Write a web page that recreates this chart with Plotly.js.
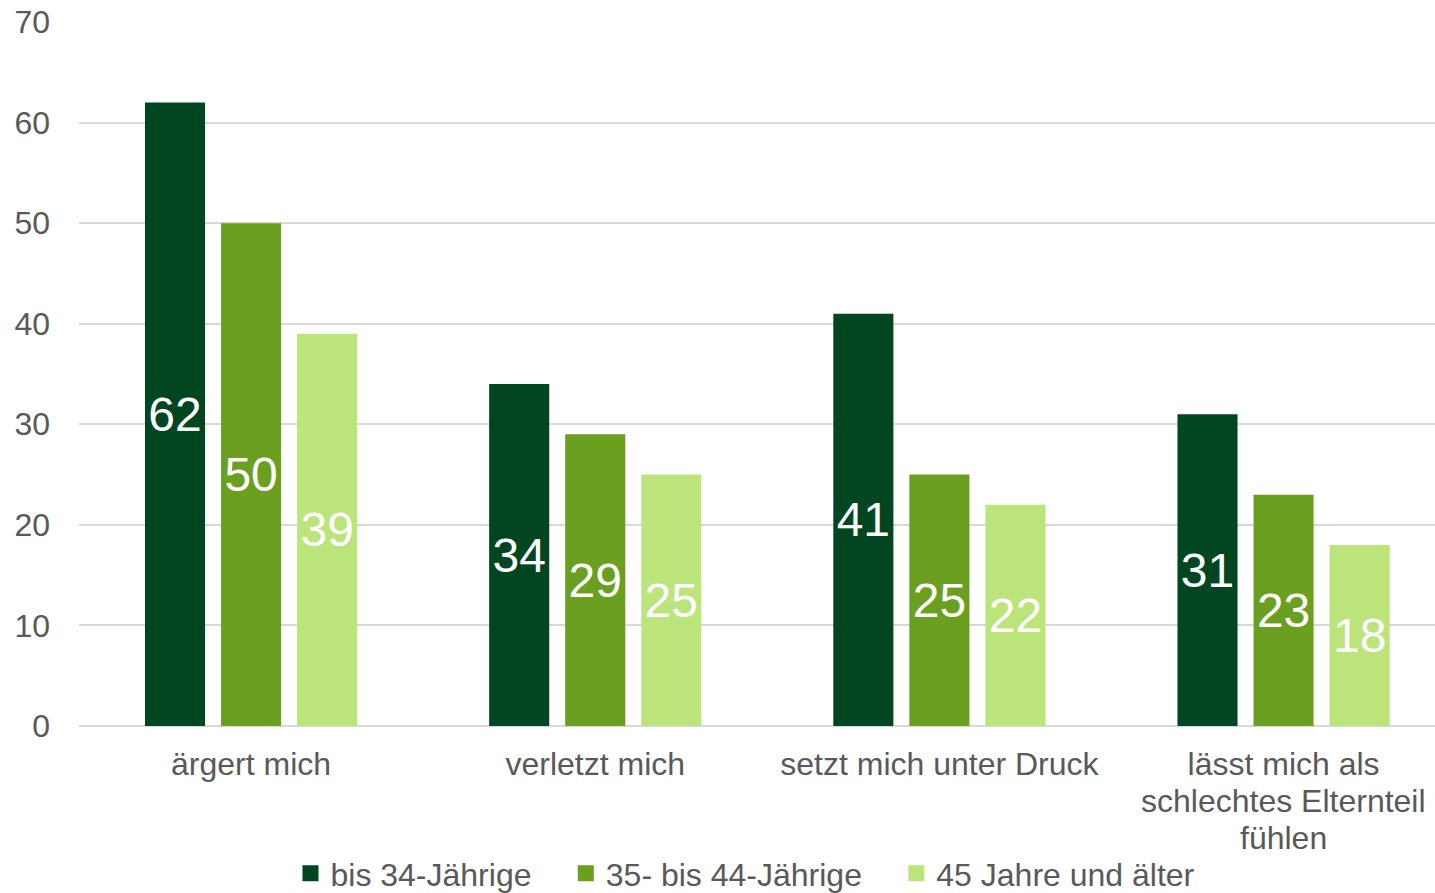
<!DOCTYPE html>
<html><head><meta charset="utf-8">
<script src="https://cdn.plot.ly/plotly-3.0.1.min.js"></script>
<style>html,body{margin:0;padding:0;background:#fff}#c{width:1435px;height:893px}</style>
</head><body><div id="c"></div>
<script>
const categories = ["ärgert mich", "verletzt mich", "setzt mich unter Druck", "lässt mich als schlechtes Elternteil fühlen"];
const tickLabels = ["ärgert mich", "verletzt mich", "setzt mich unter Druck", "lässt mich als"];
const extraLabelLines = ["schlechtes Elternteil", "fühlen"];
const seriesNames = ["bis 34-Jährige", "35- bis 44-Jährige", "45 Jahre und älter"];
const bis34 = [62, 34, 41, 31];
const bis44 = [50, 29, 25, 23];
const ab45 = [39, 25, 22, 18];
const colors = ["#024621", "#6a9f1f", "#bbe57b"];
const yTicks = [0, 10, 20, 30, 40, 50, 60, 70];

const pad = "\u00a0\u00a0\u00a0\u200a";
const values = [bis34, bis44, ab45];
const barTraces = values.map((v, i) => ({
  type: "bar",
  name: seriesNames[i],
  x: categories,
  y: v,
  marker: {color: colors[i]},
  text: v.map(String),
  textposition: "inside",
  insidetextanchor: "middle",
  textangle: 0,
  constraintext: "none",
  textfont: {color: "#ffffff", size: 48, family: "Liberation Sans, Arial, sans-serif"},
  showlegend: false,
  hoverinfo: "skip"
}));
// legend-only entries (square swatches like the reference)
const legendTraces = seriesNames.map((n, i) => ({
  type: "scatter",
  mode: "markers",
  name: n + (i < seriesNames.length - 1 ? pad : ""),
  x: [null],
  y: [null],
  marker: {symbol: "square", size: 16, color: colors[i]},
  showlegend: true,
  hoverinfo: "skip"
}));

const annotations = extraLabelLines.map((t, k) => ({
  text: t,
  x: categories[3],
  xref: "x",
  y: 0, yref: "paper",
  yanchor: "middle",
  xanchor: "center",
  yshift: -(75 + 37 * k),
  showarrow: false,
  font: {size: 32, color: "#595959", family: "Liberation Sans, Arial, sans-serif"}
}));

const layout = {
  width: 1435, height: 893,
  margin: {l: 79, r: 0, t: 22, b: 167, autoexpand: false},
  paper_bgcolor: "#fff", plot_bgcolor: "#fff",
  barmode: "group",
  bargap: 0.337,
  bargroupgap: 0.21,
  font: {family: "Liberation Sans, Arial, sans-serif", color: "#595959", size: 32},
  xaxis: {
    type: "category",
    range: [-0.5, 3.44],
    tickvals: categories,
    ticktext: tickLabels,
    showgrid: false,
    showline: false,
    ticks: "",
    ticklabelstandoff: 16,
    tickfont: {size: 32, color: "#595959"},
    automargin: false
  },
  yaxis: {
    range: [0, 70],
    tickvals: yTicks,
    showgrid: true,
    gridcolor: "#d9d9d9",
    gridwidth: 2,
    zeroline: true,
    zerolinecolor: "#d9d9d9",
    zerolinewidth: 2,
    ticks: "",
    ticklabelstandoff: 28,
    tickfont: {size: 32, color: "#595959"},
    automargin: false
  },
  annotations: annotations,
  showlegend: true,
  legend: {
    orientation: "h",
    xref: "paper",
    x: 0.4915, xanchor: "center",
    yref: "container",
    y: 0.022, yanchor: "middle",
    font: {size: 32, color: "#595959"},
    itemwidth: 30,
    itemsizing: "trace",
    traceorder: "normal"
  }
};

Plotly.newPlot("c", barTraces.concat(legendTraces), layout, {staticPlot: true, displayModeBar: false});
</script>
</body></html>
